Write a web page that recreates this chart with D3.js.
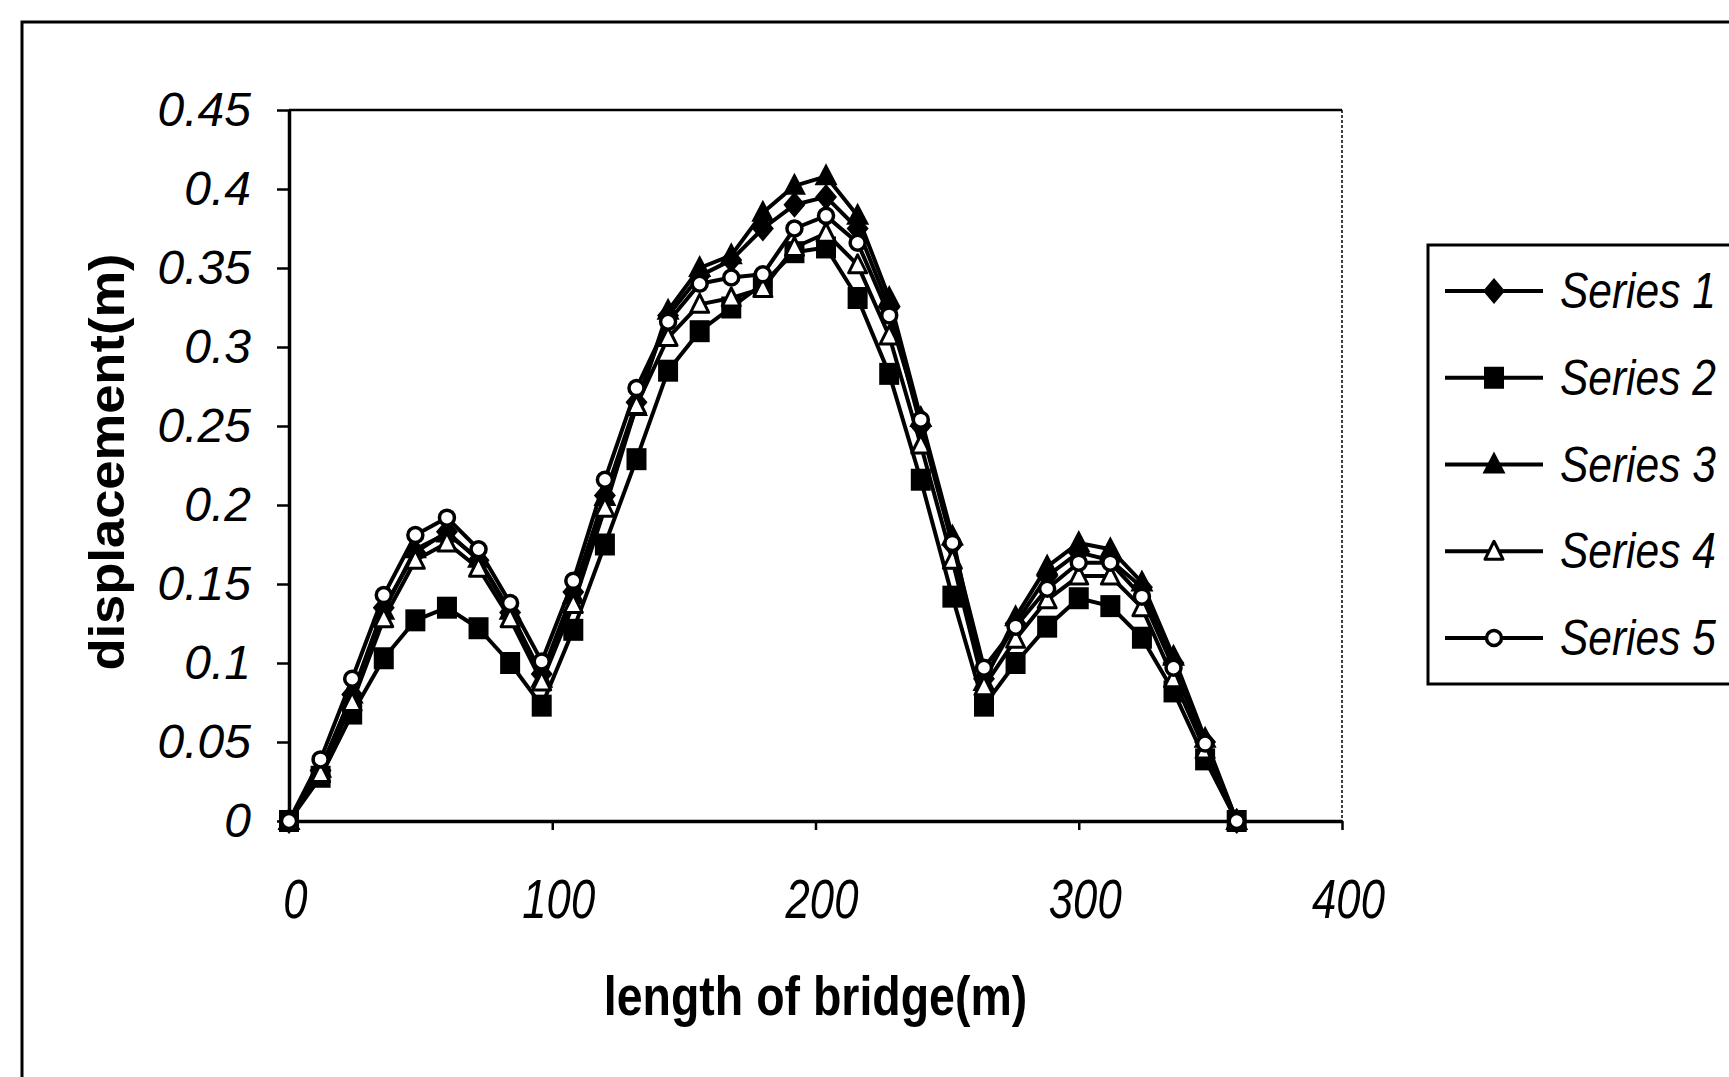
<!DOCTYPE html>
<html><head><meta charset="utf-8">
<script src="https://cdn.jsdelivr.net/npm/d3@7"></script>
<style>body{margin:0;background:#fff;overflow:hidden}</style>
</head><body>
<svg id="chart" width="1729" height="1077"></svg>
<script>
// ---- data ----
const lengths = [0,12,24,36,48,60,72,84,96,108,120,132,144,156,168,180,192,204,216,228,240,252,264,276,288,300,312,324,336,348,360];
const series1 = [0,0.032,0.08,0.135,0.17,0.183,0.165,0.132,0.093,0.145,0.206,0.265,0.32,0.345,0.355,0.375,0.39,0.395,0.375,0.325,0.25,0.175,0.09,0.125,0.155,0.17,0.165,0.148,0.1,0.05,0];
const series2 = [0,0.028,0.068,0.103,0.127,0.135,0.122,0.1,0.073,0.121,0.175,0.229,0.285,0.31,0.325,0.34,0.36,0.363,0.331,0.283,0.216,0.142,0.073,0.1,0.123,0.141,0.136,0.116,0.082,0.039,0];
const series3 = [0,0.033,0.08,0.133,0.172,0.182,0.166,0.133,0.09,0.143,0.205,0.262,0.323,0.35,0.358,0.385,0.402,0.408,0.383,0.331,0.255,0.18,0.088,0.129,0.161,0.176,0.172,0.151,0.104,0.052,0];
const series4 = [0,0.03,0.075,0.128,0.165,0.176,0.16,0.128,0.088,0.137,0.198,0.263,0.306,0.327,0.331,0.337,0.363,0.372,0.352,0.307,0.238,0.165,0.085,0.115,0.14,0.155,0.155,0.135,0.09,0.045,0];
const series5 = [0,0.039,0.09,0.143,0.181,0.192,0.172,0.138,0.101,0.152,0.216,0.274,0.316,0.34,0.344,0.346,0.375,0.383,0.366,0.32,0.254,0.176,0.097,0.123,0.147,0.1635,0.1635,0.142,0.097,0.049,0];
const seriesNames = ["Series 1","Series 2","Series 3","Series 4","Series 5"];
const xTicks = [0,100,200,300,400];
const xTickLabels = ["0","100","200","300","400"];
const yTicks = [0,0.05,0.1,0.15,0.2,0.25,0.3,0.35,0.4,0.45];
const yTickLabels = ["0","0.05","0.1","0.15","0.2","0.25","0.3","0.35","0.4","0.45"];
const xTitle = "length of bridge(m)";
const yTitle = "displacement(m)";

// ---- drawing ----
const W = 1729, H = 1077;
const svg = d3.select("#chart");
const FONT = "'Liberation Sans', Arial, Helvetica, sans-serif";
svg.append("rect").attr("width", W).attr("height", H).attr("fill", "#fff");

// outer chart frame (cut off at right and bottom)
svg.append("path").attr("d", `M${W + 5},22H22V${H + 5}`)
  .attr("fill", "none").attr("stroke", "#000").attr("stroke-width", 3);

const x = d3.scaleLinear().domain([0, 400]).range([289, 1342]);
const y = d3.scaleLinear().domain([0, 0.45]).range([821, 110]);

// plot area border: top and right
svg.append("line").attr("x1", x(0)).attr("x2", x(400)).attr("y1", y(0.45)).attr("y2", y(0.45))
  .attr("stroke", "#000").attr("stroke-width", 2.5);
svg.append("line").attr("x1", x(400)).attr("x2", x(400)).attr("y1", y(0.45)).attr("y2", y(0))
  .attr("stroke", "#000").attr("stroke-width", 1.5).attr("stroke-dasharray", "3,2");

// y axis
const yAxis = d3.axisLeft(y).tickValues(yTicks).tickSize(12).tickSizeOuter(0).tickPadding(26)
  .tickFormat((d, i) => yTickLabels[i]);
const gy = svg.append("g").attr("transform", `translate(${x(0)},0)`).call(yAxis);
gy.select(".domain").attr("stroke-width", 3.5);
gy.selectAll(".tick line").attr("stroke-width", 2.5);
gy.selectAll(".tick text").attr("font-family", FONT).attr("font-style", "italic")
  .attr("font-size", 48).attr("fill", "#000");

// x axis
const xAxis = d3.axisBottom(x).tickValues(xTicks).tickSize(9).tickSizeOuter(0).tickPadding(48)
  .tickFormat((d, i) => xTickLabels[i]);
const gx = svg.append("g").attr("transform", `translate(0,${y(0)})`).call(xAxis);
gx.select(".domain").attr("stroke-width", 3.5);
gx.selectAll(".tick line").attr("stroke-width", 2.5);
gx.selectAll(".tick text").attr("font-family", FONT).attr("font-style", "italic")
  .attr("font-size", 56).attr("fill", "#000").attr("transform", "translate(6,0) scale(0.78,1)");

// titles
svg.append("g").attr("transform", `translate(${(x(0) + x(400)) / 2},1015) scale(0.83,1)`)
  .append("text").attr("text-anchor", "middle").attr("font-family", FONT)
  .attr("font-weight", "bold").attr("font-size", 56).attr("fill", "#000").text(xTitle);
svg.append("text").attr("transform", `translate(124,462) rotate(-90) scale(1.05,1)`)
  .attr("text-anchor", "middle").attr("font-family", FONT)
  .attr("font-weight", "bold").attr("font-size", 50).attr("fill", "#000").text(yTitle);

// marker shapes
const markers = [
  { kind: "path", d: "M0,-13L11,0L0,13L-11,0Z", fill: "#000", stroke: "none", sw: 0 },
  { kind: "path", d: "M-10,-11H10V11H-10Z", fill: "#000", stroke: "none", sw: 0 },
  { kind: "path", d: "M0,-13L11.5,9L-11.5,9Z", fill: "#000", stroke: "none", sw: 0 },
  { kind: "path", d: "M0,-10L9,8L-9,8Z", fill: "#fff", stroke: "#000", sw: 3 },
  { kind: "circle", r: 7.5, fill: "#fff", stroke: "#000", sw: 3.5 }
];
function drawMarker(g, m) {
  if (m.kind === "circle") {
    g.append("circle").attr("r", m.r).attr("fill", m.fill).attr("stroke", m.stroke).attr("stroke-width", m.sw);
  } else {
    g.append("path").attr("d", m.d).attr("fill", m.fill).attr("stroke", m.stroke)
      .attr("stroke-width", m.sw).attr("stroke-linejoin", "round");
  }
}

const allSeries = [series1, series2, series3, series4, series5];
const line = d3.line().x((d, i) => x(lengths[i])).y(d => y(d));
const plot = svg.append("g");
allSeries.forEach((vals, si) => {
  plot.append("path").datum(vals).attr("d", line).attr("fill", "none")
    .attr("stroke", "#000").attr("stroke-width", 4).attr("stroke-linejoin", "round");
  vals.forEach((v, i) => {
    const g = plot.append("g").attr("transform", `translate(${x(lengths[i])},${y(v)})`);
    drawMarker(g, markers[si]);
  });
});

// legend
svg.append("path").attr("d", `M${W + 5},245H1428V684H${W + 5}`)
  .attr("fill", "#fff").attr("stroke", "#000").attr("stroke-width", 3);
const legendY = d3.scaleLinear().domain([0, 4]).range([291, 638]);
seriesNames.forEach((name, i) => {
  const cy = legendY(i);
  svg.append("line").attr("x1", 1445).attr("x2", 1543).attr("y1", cy).attr("y2", cy)
    .attr("stroke", "#000").attr("stroke-width", 4);
  const g = svg.append("g").attr("transform", `translate(1494,${cy})`);
  drawMarker(g, markers[i]);
  svg.append("g").attr("transform", `translate(1560,${cy + 17}) scale(0.85,1)`)
    .append("text").attr("font-family", FONT).attr("font-style", "italic")
    .attr("font-size", 50).attr("fill", "#000").text(name);
});
</script>
</body></html>
